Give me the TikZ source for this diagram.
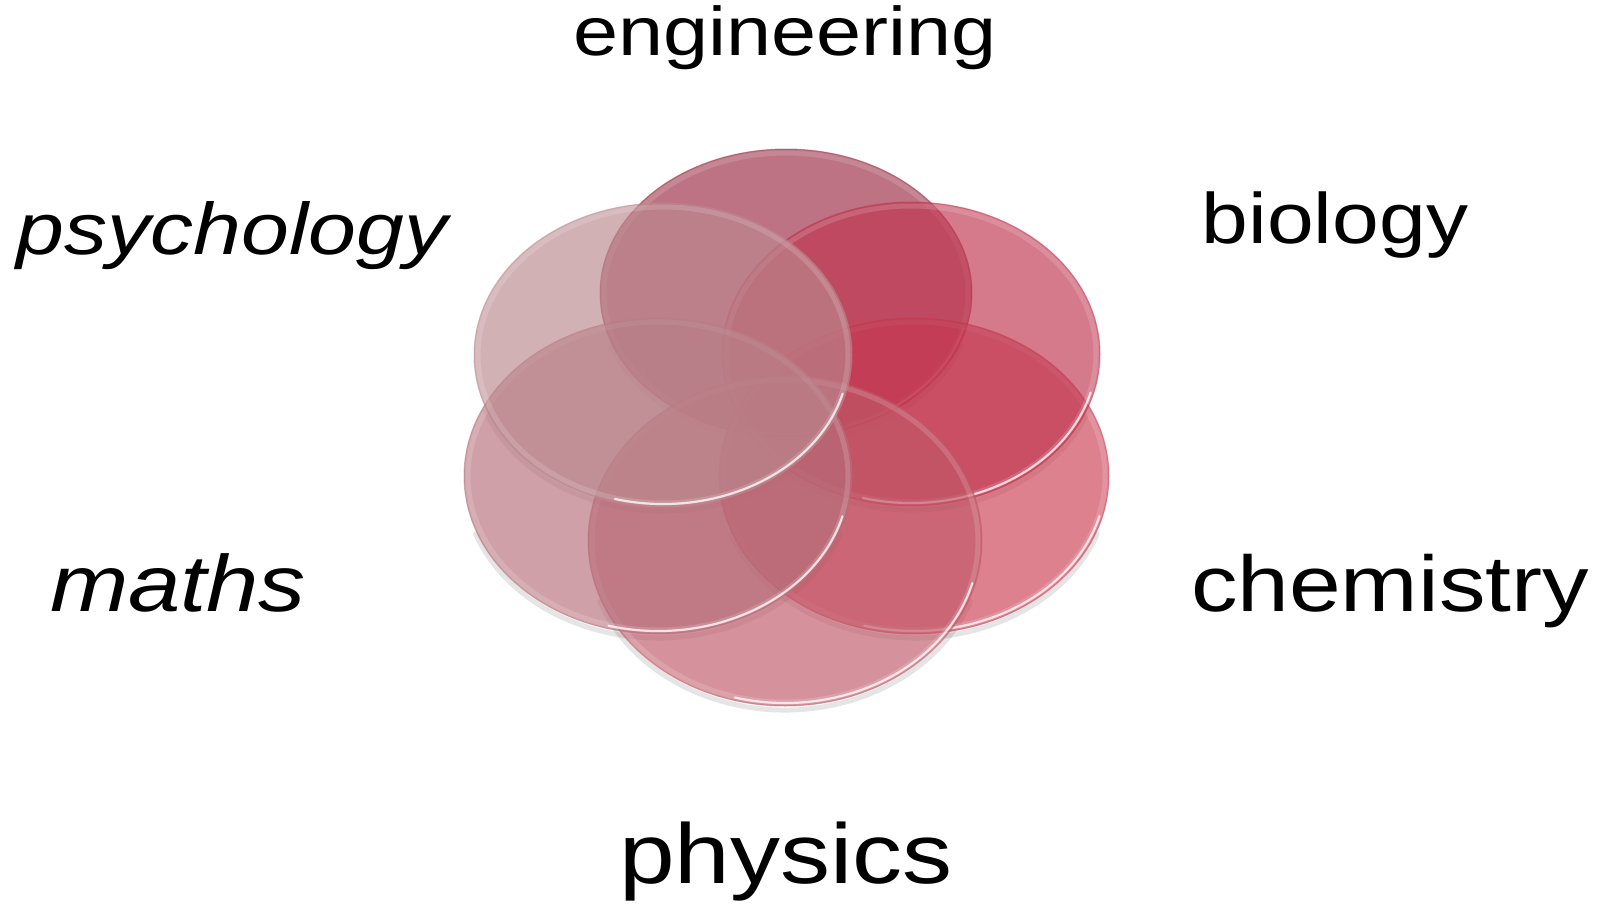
\documentclass[tikz,border=0pt]{standalone}
\usepackage{fontspec}
\usepackage{graphicx}
\setmainfont{Liberation Sans}
\definecolor{cEng}{RGB}{155,40,66}
\definecolor{cPsy}{RGB}{186,136,142}
\definecolor{cBio}{RGB}{192,52,78}
\definecolor{cMat}{RGB}{182,110,122}
\definecolor{cChe}{RGB}{204,62,84}
\definecolor{cPhy}{RGB}{192,88,104}
\tikzset{
  lbl/.style={inner sep=0pt, anchor=base, text=black},
  diskfill/.style={fill=#1, fill opacity=0.65},
  rimband/.style={draw=white, draw opacity=0.15, line width=5pt},
  rimlight/.style={draw=white, draw opacity=0.75, line width=2.2pt, line cap=round},
  rimedge/.style={draw=#1, draw opacity=0.45, line width=1pt},
  shadowarc/.style={draw=black, draw opacity=0.10, line width=5pt, line cap=round}
}
% \mydisk{x}{y}{rx}{ry}{colour}
\newcommand{\mydisk}[5]{%
  \fill[diskfill=#5] (#1,#2) ellipse[x radius=#3, y radius=#4];
  \draw[rimband] (#1,#2) ellipse[x radius=#3-4, y radius=#4-4];
  \draw[rimedge=#5] (#1,#2) ellipse[x radius=#3, y radius=#4];
  \draw[rimlight] (#1,#2) ++(15:#3-3 and #4-3) arc[start angle=15, end angle=105, x radius=#3-3, y radius=#4-3];
}
\newcommand{\myshadow}[4]{%
  \draw[shadowarc] (#1,#2+4) ++(20:#3 and #4) arc[start angle=20, end angle=160, x radius=#3, y radius=#4];
}
\newcommand{\sq}[1]{\scalebox{1}[0.85]{#1}}
\begin{document}
\begin{tikzpicture}[x=1pt,y=-1pt]
\useasboundingbox (0,0) rectangle (1610,905);
\fill[white] (0,0) rectangle (1610,905);
% shadows
\myshadow{786}{293}{186}{144}
\myshadow{663}{355}{189}{152}
\myshadow{911}{354}{189}{152}
\myshadow{658}{476}{194}{158}
\myshadow{914}{476}{195}{158}
\myshadow{785}{541}{197}{165}
% disks
\mydisk{786}{293}{186}{144}{cEng}
\mydisk{914}{476}{195}{158}{cChe}
\mydisk{911}{354}{189}{152}{cBio}
\mydisk{785}{541}{197}{165}{cPhy}
\mydisk{658}{476}{194}{158}{cMat}
\mydisk{663}{355}{189}{152}{cPsy}
% labels
\node[lbl] (eng) at (785,55) {\sq{\fontsize{81}{90}\selectfont engineering}};
\node[lbl] (psy) at (232,254) {\sq{\fontsize{86}{95}\selectfont\itshape psychology}};
\node[lbl] (bio) at (1335,243) {\sq{\fontsize{84}{93}\selectfont biology}};
\node[lbl] (mat) at (178,611) {\sq{\fontsize{94}{104}\selectfont\itshape maths}};
\node[lbl] (che) at (1390,611) {\sq{\fontsize{93}{103}\selectfont chemistry}};
\node[lbl] (phy) at (786,883) {\sq{\fontsize{100}{110}\selectfont physics}};
\end{tikzpicture}
\end{document}
